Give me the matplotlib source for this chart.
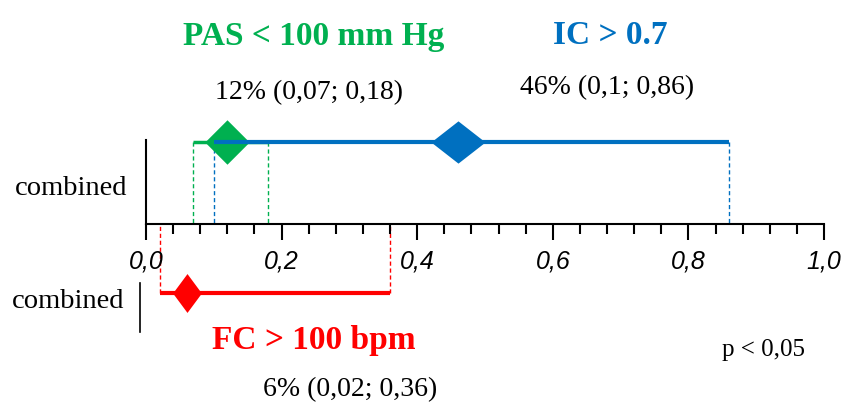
import matplotlib
matplotlib.use('Agg')
import matplotlib.pyplot as plt
from matplotlib.ticker import MultipleLocator, FuncFormatter

# Pooled proportions with 95% CI
labels = ['PAS < 100 mm Hg', 'IC > 0.7', 'FC > 100 bpm']
estimates = [0.12, 0.46, 0.06]
lower = [0.07, 0.10, 0.02]
upper = [0.18, 0.86, 0.36]
row_label = 'combined'
p_text = 'p < 0,05'

# Styling per series
colors = ['#00B050', '#0070C0', '#FF0000']
row_y = [142, 142, 293]           # vertical position of each CI line (px from top)
marker_w = [0.5, 0.5, 0.37]       # diamond half-width / half-height
marker_h = [0.5, 0.39, 0.5]
marker_size = [32, 39, 28]
line_w = [2.5, 3.0, 3.0]
title_xy = [(314, 36), (610, 36), (314, 340)]
ann_xy = [(309, 93), (607, 88), (350, 390)]

W, H = 843, 407
AXIS_Y = 224

fig = plt.figure(figsize=(W / 100, H / 100), dpi=100)
ax = fig.add_axes([146 / W, 0, 678 / W, 1])
ax.set_xlim(0, 1)
ax.set_ylim(H, 0)
ax.patch.set_visible(False)

serif = 'Liberation Serif'


def fmt(v):
    return f'{v:g}'.replace('.', ',')


def px(x, y):
    return x / W, 1 - y / H


# x axis drawn through the middle
for s in ['top', 'right']:
    ax.spines[s].set_visible(False)
ax.spines['bottom'].set_position(('data', AXIS_Y))
ax.spines['bottom'].set_linewidth(1.5)
ax.spines['left'].set_bounds(140, AXIS_Y)
ax.spines['left'].set_linewidth(1.5)
ax.set_yticks([])
ax.xaxis.set_major_locator(MultipleLocator(0.2))
ax.xaxis.set_minor_locator(MultipleLocator(0.04))
ax.xaxis.set_major_formatter(FuncFormatter(lambda x, _: f'{x:.1f}'.replace('.', ',')))
ax.tick_params(axis='x', which='major', direction='out', length=11.5, width=1.5, pad=7,
               labelsize=18)
ax.tick_params(axis='x', which='minor', direction='out', length=7, width=1.5)
for t in ax.get_xticklabels():
    t.set_family('Liberation Sans')
    t.set_style('italic')

# dashed drop lines from CI ends to the axis
for i in range(3):
    ax.vlines([lower[i], upper[i]], row_y[i], AXIS_Y, colors=colors[i],
              linestyles=(0, (3, 2)), linewidth=1, zorder=1)

# CI lines and diamonds (green under blue)
z = [2, 4, 2]
for i in range(3):
    ax.plot([lower[i], upper[i]], [row_y[i], row_y[i]], color=colors[i],
            linewidth=line_w[i], solid_capstyle='butt', zorder=z[i], clip_on=False)
    w, h = marker_w[i], marker_h[i]
    diamond = [(-w, 0), (0, h), (w, 0), (0, -h), (-w, 0)]
    ax.plot([estimates[i]], [row_y[i]], marker=diamond, markersize=marker_size[i],
            color=colors[i], markeredgewidth=0, linestyle='none', zorder=z[i] + 1,
            clip_on=False)

# second row axis stub
ax.plot([-0.009, -0.009], [283, 332], color='black', linewidth=1.2, clip_on=False)

# titles and estimate annotations
for i in range(3):
    fig.text(*px(*title_xy[i]), labels[i], color=colors[i], fontsize=24,
             fontweight='bold', family=serif, ha='center', va='center')
    ann = f'{round(estimates[i] * 100)}% ({fmt(lower[i])}; {fmt(upper[i])})'
    fig.text(*px(*ann_xy[i]), ann, color='black', fontsize=20, family=serif,
             ha='center', va='center')

fig.text(*px(71, 188), row_label, fontsize=20.5, family=serif, ha='center', va='center')
fig.text(*px(68, 301), row_label, fontsize=20.5, family=serif, ha='center', va='center')
fig.text(*px(764, 350), p_text, fontsize=18, family=serif, ha='center', va='center')

fig.savefig('out.png', dpi=100)
